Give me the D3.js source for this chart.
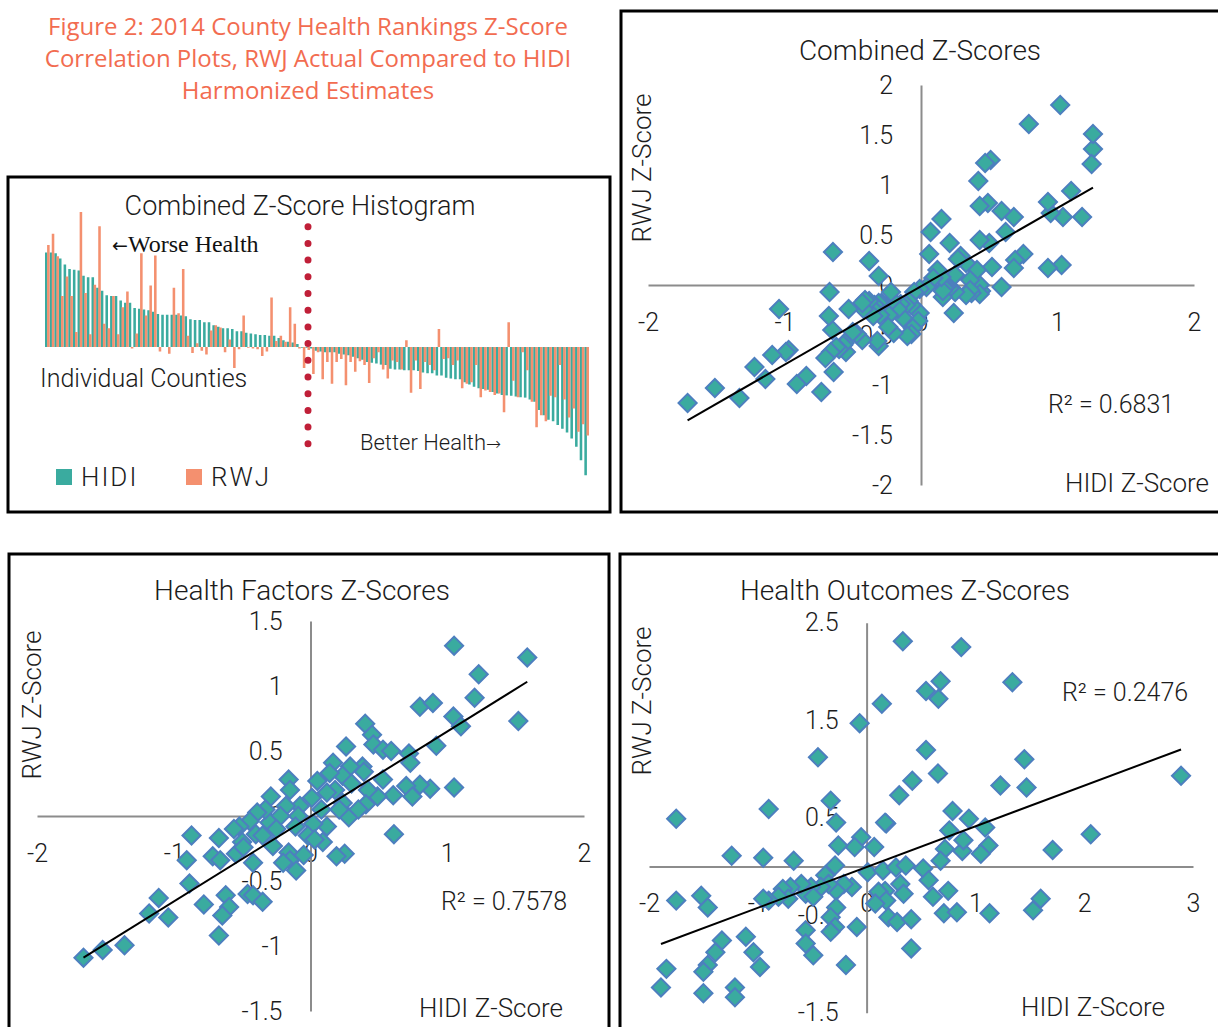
<!DOCTYPE html>
<html>
<head>
<meta charset="utf-8">
<script src="https://cdn.jsdelivr.net/npm/d3@7"></script>
<style>
  body { margin: 0; background: #fff; }
  svg text { font-family: Roboto, "Open Sans", sans-serif; font-weight: 300; fill: #1c1c1c; }
</style>
</head>
<body>
<svg id="chart" width="1218" height="1027"></svg>
<script>
// combined z-scores per county, sorted by HIDI (worse health first)
const combinedHidi = [
  1.26, 1.26, 1.25, 1.18, 1.10, 1.04, 1.03, 1.02, 0.95, 0.93, 0.93, 0.79, 0.75, 0.69, 0.68, 0.68,
  0.62, 0.59, 0.59, 0.52, 0.51, 0.50, 0.49, 0.47, 0.44, 0.43, 0.43, 0.43, 0.43, 0.42, 0.41, 0.37,
  0.36, 0.36, 0.33, 0.33, 0.29, 0.27, 0.25, 0.25, 0.24, 0.21, 0.21, 0.19, 0.18, 0.17, 0.16, 0.16,
  0.15, 0.15, 0.12, 0.09, 0.07, 0.06, 0.04,
  -0.01, -0.01, -0.02, -0.05, -0.06, -0.07, -0.07, -0.07, -0.09, -0.10, -0.11, -0.13, -0.15, -0.17,
  -0.20, -0.21, -0.22, -0.235, -0.24, -0.29, -0.30, -0.30, -0.31, -0.31, -0.31, -0.32, -0.34, -0.35,
  -0.35, -0.38, -0.38, -0.41, -0.42, -0.43, -0.43,
  -0.47, -0.50, -0.53, -0.55, -0.56, -0.57, -0.60, -0.62, -0.64, -0.645, -0.65, -0.66, -0.67,
  -0.675, -0.70, -0.73, -0.84, -0.91, -0.97, -0.99, -1.04, -1.09, -1.14, -1.22, -1.33, -1.51, -1.71
];
const combinedRwj = [
  1.36, 1.51, 1.21, 0.68, 0.94, 0.68, 0.20, 1.80, 0.72, 0.17, 0.83, 1.61, 0.31, 0.25, 0.68, 0.17,
  0.53, 0.74, -0.02, 0.18, 1.25, 0.42, 0.82, 1.22, -0.06, 0.00, -0.09, 0.79, 0.45, 1.04, 0.15, -0.08,
  0.05, -0.05, -0.10, 0.22, 0.29, 0.26, -0.07, 0.10, -0.28, -0.03, 0.42, -0.01, -0.02, -0.03, -0.12, -0.06,
  0.66, 0.08, 0.15, 0.07, 0.53, 0.31, -0.02,
  -0.28, -0.04, -0.36, -0.07, -0.43, -0.20, -0.49, -0.20, -0.16, -0.51, -0.20, -0.33, -0.19, -0.24,
  -0.48, -0.15, -0.07, -0.30, -0.42, -0.18, -0.20, -0.30, 0.09, -0.61, -0.18, -0.56, -0.20, -0.24,
  -0.31, 0.24, -0.16, -0.15, -0.24, -0.18, -0.55,
  -0.49, -0.47, -0.24, -0.67, -0.58, -0.60, -0.64, -0.62, -0.87, 0.33, -0.45, -0.67, -0.07,
  -0.31, -0.73, -1.07, -0.91, -0.99, -0.65, -0.67, -0.24, -0.70, -0.94, -0.82, -1.13, -1.03, -1.18
];

// health factors z-scores
const factorsHidi = [
  1.05, 1.585, 1.23, 1.20, 0.80, 0.895, 1.52, 1.045, 1.10, 0.92, 0.72, 0.73, 1.05, 0.875, 0.80, 0.70,
  0.745, 0.605, 0.61, 0.40, 0.45, 0.46, 0.53, 0.59, 0.53, 0.49, 0.42, 0.405, 0.38, 0.39, 0.26, 0.29,
  0.235, 0.165, 0.18, 0.235, 0.28, 0.21, 0.12, 0.25, 0.19, 0.09, 0.05, 0.01, 0.02, -0.02, 0.03, -0.077,
  -0.09, -0.11, -0.16, -0.15, -0.18, -0.22, -0.29, -0.30, -0.33, -0.39, -0.40, -0.445, -0.52, -0.56,
  -0.50, -0.545, -0.49, -0.42, -0.275, -0.16, -0.15, -0.105, -0.20, -0.87, -0.67, -0.905, -0.715, -0.66,
  -0.885, -0.62, -0.46, -0.42, -0.35, -0.595, -0.645, -0.78, -1.11, -1.18, -1.04, -0.67, -1.36, -1.52,
  -1.66, 0.30, 0.12, -0.05, 0.35, -0.25, 0.14, -0.35, 0.08
];
const factorsRwj = [
  1.31, 1.22, 1.09, 0.91, 0.84, 0.87, 0.73, 0.765, 0.69, 0.54, 0.48, 0.41, 0.22, 0.21, 0.24, 0.23,
  0.15, 0.16, -0.14, 0.71, 0.625, 0.55, 0.51, 0.50, 0.28, 0.15, 0.20, 0.09, 0.38, 0.34, 0.535, 0.38,
  0.31, 0.41, 0.20, 0.10, -0.01, 0.05, -0.08, -0.29, -0.31, -0.20, 0.27, 0.14, -0.06, -0.15, -0.18, 0.077,
  0.00, -0.08, 0.28, 0.20, 0.077, 0.00, 0.15, -0.05, 0.05, 0.026, -0.14, -0.04, -0.08, -0.10,
  -0.20, -0.29, -0.24, -0.36, -0.23, -0.28, -0.34, -0.42, -0.36, -0.15, -0.17, -0.34, -0.31, -0.34,
  -0.52, -0.61, -0.60, -0.61, -0.66, -0.70, -0.765, -0.68, -0.63, -0.75, -0.78, -0.92, -0.995, -1.03,
  -1.09, 0.25, 0.18, -0.30, 0.05, -0.10, 0.33, -0.15, 0.05
];

// health outcomes z-scores
const outcomesHidi = [
  0.333, 0.87, 1.34, 0.68, 0.546, 0.66, 0.14, -0.064, -0.447, 0.546, 1.45, 0.656, 0.42, 1.23, 1.47, 2.89,
  0.30, -0.33, -0.90, -1.75, -0.28, 0.79, 0.94, 1.09, 0.18, 0.17, 0.76, 2.06, -0.05, -0.11, -0.26, 0.07,
  0.72, 0.88, 0.89, 1.12, 1.05, 1.71, 0.68, -1.24, -0.95, -0.67, -0.29, 0.01, 0.15, 0.27, 0.36, 0.52,
  -0.38, 0.57, 0.75, 0.61, 0.31, 0.17, 0.11, 0.34, 0.18, 0.08, -0.135, -0.21, -0.28, -0.35, -0.42, -0.51,
  -0.56, -0.60, -0.70, -0.77, -0.72, -0.81, -0.90, -0.95, -0.49, -0.28, -0.33, -0.29, -0.33, -0.09, 0.20,
  0.28, 0.41, 0.71, 0.83, 1.13, 1.53, 1.60, -1.75, -1.52, -1.46, -0.56, -0.56, -0.49, -0.19, 0.41, -1.11,
  -1.04, -0.98, -1.33, -1.39, -1.46, -1.50, -1.84, -1.89, -1.50, -1.21, -1.21
];
const outcomesRwj = [
  2.31, 2.25, 1.89, 1.90, 1.80, 1.72, 1.67, 1.47, 1.12, 1.195, 1.10, 0.955, 0.88, 0.83, 0.81, 0.93,
  0.73, 0.675, 0.59, 0.49, 0.45, 0.57, 0.49, 0.40, 0.44, 0.45, 0.37, 0.33, 0.30, 0.20, 0.215, 0.20,
  0.18, 0.16, 0.27, 0.215, 0.13, 0.17, 0.06, 0.11, 0.09, 0.06, 0.01, -0.06, -0.04, -0.01, 0.01, -0.02,
  -0.09, -0.14, -0.25, -0.31, -0.18, -0.25, -0.26, -0.28, -0.35, -0.38, -0.21, -0.18, -0.25, -0.18, -0.21, -0.21,
  -0.28, -0.18, -0.21, -0.23, -0.33, -0.31, -0.35, -0.33, -0.31, -0.42, -0.52, -0.62, -0.67, -0.62, -0.52,
  -0.57, -0.54, -0.48, -0.47, -0.48, -0.45, -0.33, -0.35, -0.30, -0.42, -0.655, -0.79, -0.91, -1.01, -0.84, -0.72,
  -0.88, -1.03, -0.76, -0.88, -1.01, -1.08, -1.05, -1.24, -1.30, -1.24, -1.34
];

// trendline [slope, intercept] and R² as shown on the chart
const combinedTrend = [0.784, -0.013];
const factorsTrend = [0.654, -0.004];
const outcomesTrend = [0.4175, -0.006];
const r2Labels = ["R² = 0.6831", "R² = 0.7578", "R² = 0.2476"];

const combinedTicksX = [-2, -1, 0, 1, 2];
const combinedTicksY = [-2, -1.5, -1, -0.5, 0, 0.5, 1, 1.5, 2];
const factorsTicksX = [-2, -1, 0, 1, 2];
const factorsTicksY = [-1.5, -1, -0.5, 0, 0.5, 1, 1.5];
const outcomesTicksX = [-2, -1, 0, 1, 2, 3];
const outcomesTicksY = [-1.5, -0.5, 0.5, 1.5, 2.5];

const TEAL = "#3aab9f";
const ORANGE = "#f4906f";
const MARKER_STROKE = "#4d7fbf";
const AXIS = "#8c8c8c";
const TITLE = "#f26c50";

const svg = d3.select("#chart");

// figure caption
const captionLines = ["Figure 2: 2014 County Health Rankings Z-Score",
                      "Correlation Plots, RWJ Actual Compared to HIDI",
                      "Harmonized Estimates"];
svg.append("g").selectAll("text").data(captionLines).join("text")
    .attr("x", 308)
    .attr("y", (d, i) => 35 + i * 32)
    .attr("text-anchor", "middle")
    .style("font-family", "'Open Sans', sans-serif")
    .style("font-weight", 400)
    .style("font-size", "24px")
    .style("fill", TITLE)
    .text(d => d);

// panel frames
function frame(x0, y0, x1, y1) {
    svg.append("rect")
        .attr("x", x0).attr("y", y0)
        .attr("width", x1 - x0).attr("height", y1 - y0)
        .attr("fill", "none")
        .attr("stroke", "#000")
        .attr("stroke-width", 3);
}
frame(8, 177, 610, 512);
frame(621, 11, 1224, 512);
frame(9, 554, 609, 1040);
frame(620, 554, 1224, 1040);

// ---------- histogram ----------
const n = combinedHidi.length;
const hx = d3.scaleBand().domain(d3.range(n)).range([45, 589]);
const hy = d3.scaleLinear().domain([-2, 2]).range([497, 197]);
const bw = hx.bandwidth();

const hist = svg.append("g");
hist.selectAll("rect.hidi").data(combinedHidi).join("rect")
    .attr("class", "hidi")
    .attr("x", (d, i) => hx(i))
    .attr("width", bw * 0.55)
    .attr("y", d => Math.min(hy(d), hy(0)))
    .attr("height", d => Math.abs(hy(d) - hy(0)))
    .attr("fill", TEAL);
hist.selectAll("rect.rwj").data(combinedRwj).join("rect")
    .attr("class", "rwj")
    .attr("x", (d, i) => hx(i) + bw * 0.45)
    .attr("width", bw * 0.55)
    .attr("y", d => Math.min(hy(d), hy(0)))
    .attr("height", d => Math.abs(hy(d) - hy(0)))
    .attr("fill", ORANGE);

// red dotted divider
hist.append("line")
    .attr("x1", 308).attr("x2", 308)
    .attr("y1", 226.7).attr("y2", 445)
    .attr("stroke", "#c01f38")
    .attr("stroke-width", 7)
    .attr("stroke-linecap", "round")
    .attr("stroke-dasharray", "0 16.7");

hist.append("text").attr("x", 300).attr("y", 215).attr("text-anchor", "middle")
    .style("font-size", "27px").text("Combined Z-Score Histogram");

const worse = hist.append("text").attr("x", 112).attr("y", 252)
    .style("font-family", "'Liberation Serif', serif").style("font-weight", 400)
    .style("font-size", "24px").style("fill", "#111");
worse.append("tspan").style("font-family", "'DejaVu Sans', sans-serif").style("font-size", "19px").text("←");
worse.append("tspan").text("Worse Health");

hist.append("text").attr("x", 40).attr("y", 387)
    .style("font-size", "25px").text("Individual Counties");

const better = hist.append("text").attr("x", 360).attr("y", 450).style("font-size", "22px");
better.append("tspan").text("Better Health");
better.append("tspan").style("font-family", "'DejaVu Sans', sans-serif").style("font-size", "18px").text("→");

const legend = [{label: "HIDI", color: TEAL, x: 56}, {label: "RWJ", color: ORANGE, x: 186}];
legend.forEach(l => {
    hist.append("rect").attr("x", l.x).attr("y", 469).attr("width", 16).attr("height", 16).attr("fill", l.color);
    hist.append("text").attr("x", l.x + 25).attr("y", 486)
        .style("font-size", "26px").style("letter-spacing", "2px").text(l.label);
});

// ---------- scatter plots ----------
function drawScatter(p) {
    const x = d3.scaleLinear().domain(p.xDomain).range(p.xRange);
    const y = d3.scaleLinear().domain(p.yDomain).range(p.yRange);
    const g = svg.append("g");

    const xAxis = d3.axisBottom(x).tickValues(p.xTicks).tickSize(0).tickSizeOuter(0)
        .tickPadding(28).tickFormat(d => String(d));
    const yAxis = d3.axisLeft(y).tickValues(p.yTicks).tickSize(0).tickSizeOuter(0)
        .tickPadding(28).tickFormat(d => String(d));

    g.append("g").attr("transform", `translate(0,${y(0)})`).call(xAxis);
    g.append("g").attr("transform", `translate(${x(0)},0)`).call(yAxis);

    g.selectAll(".domain").attr("stroke", AXIS).attr("stroke-width", 2);
    g.selectAll(".tick text").style("font-size", "25px").style("fill", "#1c1c1c");

    g.selectAll("path.pt").data(d3.zip(p.xs, p.ys)).join("path")
        .attr("class", "pt")
        .attr("d", d3.symbol(d3.symbolSquare, 165))
        .attr("transform", d => `translate(${x(d[0])},${y(d[1])}) rotate(45)`)
        .attr("fill", TEAL)
        .attr("stroke", MARKER_STROKE)
        .attr("stroke-width", 2);

    const [lo, hi] = d3.extent(p.xs);
    g.append("line")
        .attr("x1", x(lo)).attr("y1", y(p.trend[0] * lo + p.trend[1]))
        .attr("x2", x(hi)).attr("y2", y(p.trend[0] * hi + p.trend[1]))
        .attr("stroke", "#000").attr("stroke-width", 2);

    g.append("text").attr("x", p.title[0]).attr("y", p.title[1]).attr("text-anchor", "middle")
        .style("font-size", "28px").text(p.titleText);
    g.append("text").attr("transform", `translate(${p.yTitle[0]},${p.yTitle[1]}) rotate(-90)`)
        .attr("text-anchor", "middle").style("font-size", "26px").text("RWJ Z-Score");
    g.append("text").attr("x", p.xTitle[0]).attr("y", p.xTitle[1]).attr("text-anchor", "middle")
        .style("font-size", "26px").text("HIDI Z-Score");
    g.append("text").attr("x", p.r2[0]).attr("y", p.r2[1]).attr("text-anchor", "middle")
        .style("font-size", "25px").text(p.r2Text);
}

drawScatter({
    xs: combinedHidi, ys: combinedRwj, trend: combinedTrend,
    xDomain: [-2, 2], xRange: [648, 1194], yDomain: [-2, 2], yRange: [485, 85],
    xTicks: combinedTicksX, yTicks: combinedTicksY,
    titleText: "Combined Z-Scores", title: [920, 60],
    yTitle: [651, 168], xTitle: [1137, 492], r2: [1111, 413], r2Text: r2Labels[0]
});

drawScatter({
    xs: factorsHidi, ys: factorsRwj, trend: factorsTrend,
    xDomain: [-2, 2], xRange: [37, 584], yDomain: [-1.5, 1.5], yRange: [1011, 621],
    xTicks: factorsTicksX, yTicks: factorsTicksY,
    titleText: "Health Factors Z-Scores", title: [302, 600],
    yTitle: [41, 705], xTitle: [491, 1017], r2: [504, 910], r2Text: r2Labels[1]
});

drawScatter({
    xs: outcomesHidi, ys: outcomesRwj, trend: outcomesTrend,
    xDomain: [-2, 3], xRange: [649, 1193], yDomain: [-1.5, 2.5], yRange: [1012.75, 622.75],
    xTicks: outcomesTicksX, yTicks: outcomesTicksY,
    titleText: "Health Outcomes Z-Scores", title: [905, 600],
    yTitle: [651, 701], xTitle: [1093, 1016], r2: [1125, 701], r2Text: r2Labels[2]
});
</script>
</body>
</html>
